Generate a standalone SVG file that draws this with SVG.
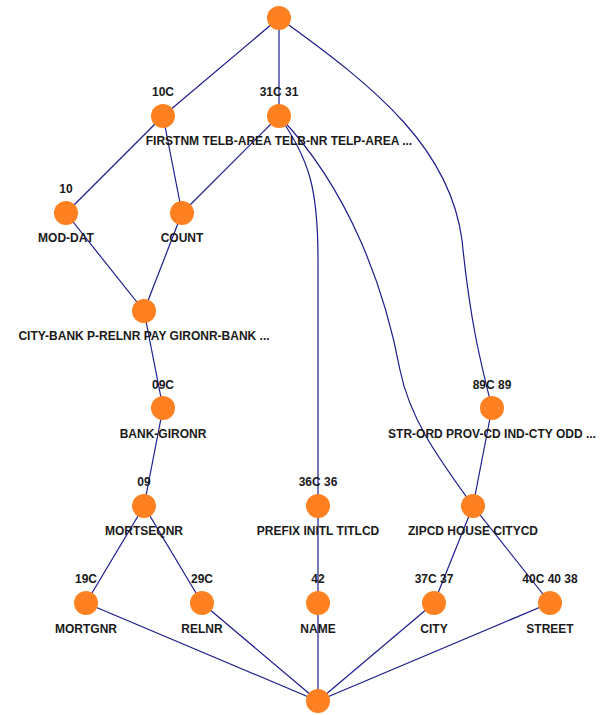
<svg xmlns="http://www.w3.org/2000/svg" width="600" height="715" viewBox="0 0 600 715">
<style>
.e{fill:none;stroke:#1c1c8c;stroke-width:1.2}
.n{fill:#ff8020}
text{font-family:"Liberation Sans",Arial,sans-serif;font-size:12px;font-weight:bold;fill:#1a1a1a;text-anchor:middle}
</style>
<rect width="600" height="715" fill="#fff"/>
<g id="edges">
<line class="e" x1="279" y1="18" x2="163" y2="116"/>
<line class="e" x1="279" y1="18" x2="279" y2="116"/>
<path class="e" d="M279,18 C380,90 450,150 462,240 C470,320 480,360 492,408"/>
<line class="e" x1="163" y1="116" x2="66" y2="213"/>
<line class="e" x1="163" y1="116" x2="182" y2="213"/>
<line class="e" x1="279" y1="116" x2="182" y2="213"/>
<path class="e" d="M279,116 C310,160 318,190 318,260 L318,506"/>
<path class="e" d="M279,116 C350,190 385,290 400,370 C410,420 440,460 473,506"/>
<line class="e" x1="66" y1="213" x2="144" y2="311"/>
<line class="e" x1="182" y1="213" x2="144" y2="311"/>
<line class="e" x1="144" y1="311" x2="163" y2="408"/>
<line class="e" x1="163" y1="408" x2="144" y2="506"/>
<line class="e" x1="492" y1="408" x2="473" y2="506"/>
<line class="e" x1="144" y1="506" x2="86" y2="603"/>
<line class="e" x1="144" y1="506" x2="202" y2="603"/>
<line class="e" x1="318" y1="506" x2="318" y2="603"/>
<line class="e" x1="473" y1="506" x2="434" y2="603"/>
<line class="e" x1="473" y1="506" x2="550" y2="603"/>
<line class="e" x1="86" y1="603" x2="318" y2="701"/>
<line class="e" x1="202" y1="603" x2="318" y2="701"/>
<line class="e" x1="318" y1="603" x2="318" y2="701"/>
<line class="e" x1="434" y1="603" x2="318" y2="701"/>
<line class="e" x1="550" y1="603" x2="318" y2="701"/>
</g>
<g id="n-top"><circle class="n" cx="279" cy="18" r="12"/></g>
<g id="n-10C"><circle class="n" cx="163" cy="116" r="12"/><text x="163" y="96">10C</text><text x="279" y="145">FIRSTNM TELB-AREA TELB-NR TELP-AREA  ...</text></g>
<g id="n-31C"><circle class="n" cx="279" cy="116" r="12"/><text x="279" y="96">31C 31</text></g>
<g id="n-10"><circle class="n" cx="66" cy="213" r="12"/><text x="66" y="193">10</text><text x="66" y="242">MOD-DAT</text></g>
<g id="n-count"><circle class="n" cx="182" cy="213" r="12"/><text x="182" y="242">COUNT</text></g>
<g id="n-citybank"><circle class="n" cx="144" cy="311" r="12"/><text x="144" y="340">CITY-BANK P-RELNR PAY GIRONR-BANK  ...</text></g>
<g id="n-09C"><circle class="n" cx="163" cy="408" r="12"/><text x="163" y="438">BANK-GIRONR</text><text x="163" y="389">09C</text></g>
<g id="n-89C"><circle class="n" cx="492" cy="408" r="12"/><text x="492" y="389">89C 89</text><text x="492" y="438">STR-ORD PROV-CD IND-CTY ODD  ...</text></g>
<g id="n-09"><circle class="n" cx="144" cy="506" r="12"/><text x="144" y="486">09</text><text x="144" y="535">MORTSEQNR</text></g>
<g id="n-36C"><circle class="n" cx="318" cy="506" r="12"/><text x="318" y="486">36C 36</text><text x="318" y="535">PREFIX INITL TITLCD</text></g>
<g id="n-zipcd"><circle class="n" cx="473" cy="506" r="12"/><text x="473" y="535">ZIPCD HOUSE CITYCD</text></g>
<g id="n-19C"><circle class="n" cx="86" cy="603" r="12"/><text x="86" y="583">19C</text><text x="86" y="633">MORTGNR</text></g>
<g id="n-29C"><circle class="n" cx="202" cy="603" r="12"/><text x="202" y="583">29C</text><text x="202" y="633">RELNR</text></g>
<g id="n-42"><circle class="n" cx="318" cy="603" r="12"/><text x="318" y="583">42</text><text x="318" y="633">NAME</text></g>
<g id="n-37C"><circle class="n" cx="434" cy="603" r="12"/><text x="434" y="583">37C 37</text><text x="434" y="633">CITY</text></g>
<g id="n-40C"><circle class="n" cx="550" cy="603" r="12"/><text x="550" y="583">40C 40 38</text><text x="550" y="633">STREET</text></g>
<g id="n-bottom"><circle class="n" cx="318" cy="701" r="12"/></g>
</svg>
